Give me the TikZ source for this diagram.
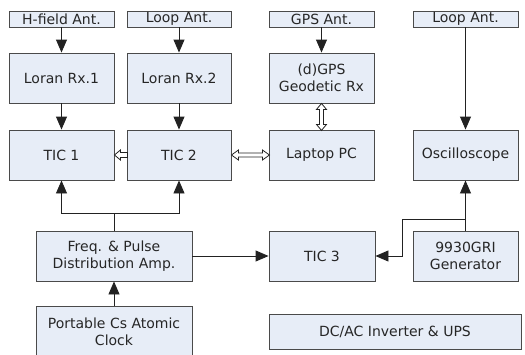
\documentclass[tikz,border=0pt]{standalone}
\usepackage{fontspec}
\setmainfont{DejaVu Sans}
\usetikzlibrary{arrows.meta,calc}
\definecolor{boxfill}{HTML}{E7EDF7}
\definecolor{boxline}{HTML}{4A4A4A}
\definecolor{linecol}{HTML}{222222}
\begin{document}
\begin{tikzpicture}[x=1pt,y=-1pt,
  blk/.style={draw=boxline,fill=boxfill,line width=0.9pt,inner sep=0pt,align=center,
    font=\fontsize{14}{17.5}\selectfont,text=black!85},
  ant/.style={blk,minimum height=16pt},
  arr/.style={draw=linecol,line width=0.9pt,-{Triangle[length=13pt,width=11pt]}},
  ln/.style={draw=linecol,line width=0.9pt},
  hollow/.style={draw=linecol,fill=white,line width=0.8pt,line join=miter}]
\useasboundingbox (0,0) rectangle (525,354);
% antennas
\node[ant,minimum width=105pt] (hant) at (61.5,19) {H-field Ant.};
\node[ant,minimum width=104pt] (lant) at (179,19) {Loop Ant.};
\node[ant,minimum width=105pt] (gant) at (321.5,19) {GPS Ant.};
\node[ant,minimum width=105pt] (lant2) at (465.5,19) {Loop Ant.};
% receivers
\node[blk,minimum width=105pt,minimum height=50pt] (rx1) at (61.5,78) {Loran Rx.1};
\node[blk,minimum width=104pt,minimum height=50pt] (rx2) at (179,78) {Loran Rx.2};
\node[blk,minimum width=105pt,minimum height=50pt] (gps) at (321.5,78) {(d)GPS\\Geodetic Rx};
% TIC row
\node[blk,minimum width=105pt,minimum height=50pt] (tic1) at (61.5,155) {TIC 1};
\node[blk,minimum width=104pt,minimum height=50pt] (tic2) at (179,155) {TIC 2};
\node[blk,minimum width=105pt,minimum height=50pt] (laptop) at (321.5,155) {Laptop PC};
\node[blk,minimum width=105pt,minimum height=50pt] (osc) at (465.5,155) {Oscilloscope};
% lower
\node[blk,minimum width=156pt,minimum height=50pt] (freq) at (114,256) {Freq. \& Pulse\\Distribution Amp.};
\node[blk,minimum width=156pt,minimum height=52pt] (clock) at (114,332) {Portable Cs Atomic\\Clock};
\node[blk,minimum width=106pt,minimum height=50pt] (tic3) at (322,256) {TIC 3};
\node[blk,minimum width=105pt,minimum height=50pt] (gen) at (465.5,256) {9930GRI\\Generator};
\node[blk,minimum width=252pt,minimum height=35pt] (dcac) at (395,331.5) {DC/AC Inverter \& UPS};
% arrows
\draw[arr] (hant) -- (rx1);
\draw[arr] (lant) -- (rx2);
\draw[arr] (gant) -- (gps);
\draw[arr] (lant2) -- (osc);
\draw[arr] (rx1) -- (tic1);
\draw[arr] (rx2) -- (tic2);
\coordinate (jn) at (114,213);
\draw[ln] (freq.north) -- (jn);
\draw[arr] (jn) -| (tic1.south);
\draw[arr] (jn) -| (tic2.south);
\draw[arr] (clock.north) -- (freq.south);
\draw[arr] (freq.east) -- (tic3.west);
\draw[arr] (gen.north) -- (osc.south);
\coordinate (br) at (465.5,219);
\coordinate (bk) at (402,219);
\draw[arr] (br) -- (bk) |- (tic3.east);
% hollow arrows
\draw[hollow] (tic1.east) -- ++(6,-5) -- ++(0,2.5) -- ++(7,0) -- ++(0,5) -- ++(-7,0) -- ++(0,2.5) -- cycle;
\draw[hollow] (tic2.east) -- ++(7,-5) -- ++(0,3) -- ++(24,0) -- ++(0,-3) -- ++(7,5) -- ++(-7,5) -- ++(0,-3) -- ++(-24,0) -- ++(0,3) -- cycle;
\draw[hollow] (gps.south) -- ++(-5,6) -- ++(3,0) -- ++(0,15) -- ++(-3,0) -- ++(5,6) -- ++(5,-6) -- ++(-3,0) -- ++(0,-15) -- ++(3,0) -- cycle;
\end{tikzpicture}
\end{document}
